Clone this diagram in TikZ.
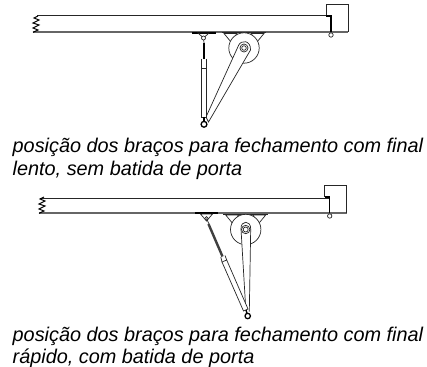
\documentclass[tikz,border=0pt]{standalone}
\usepackage{fontspec}
\setmainfont{Liberation Sans}
\tikzset{
  thin line/.style={line width=0.7pt,draw=black!85},
  door top/.style={line width=1pt,draw=black!85},
  door bottom/.style={line width=1.3pt,draw=black!60},
  heavy line/.style={line width=2pt,draw=black},
  caption/.style={anchor=base west,inner sep=0pt,font=\fontsize{19.85}{22}\selectfont\itshape},
  hinge/.pic={
    \draw[door bottom] (-3,0) -- (18,0);
    \draw[thin line] (-4,-16) -- (-4,-27.5) -- (18,-27.5) -- (18,0);
    \draw[line width=1.2pt] (-4,-16) -- (1,-16) -- (1,0);
    \draw[thin line,fill=white] (1,3) circle (2.2);
  },
  zig/.pic={
    \draw[line width=1pt] (5,-16) -- (1,-14) -- (6,-12) -- (0,-9) -- (6,-7) -- (0,-4) -- (5,-2) -- (0,0.3);
  },
  wheel/.pic={
    \draw[line width=1pt,draw=black!85] (-22.5,-15.5) -- (22,-15.5);
    \draw[thin line] (-20,-14.5) -- (-7,-14.5) -- (-13,-6) -- cycle;
    \draw[thin line] (20,-14.5) -- (7,-14.5) -- (13,-6) -- cycle;
    \draw[thin line,fill=white] (0,0) circle (15.2);
  },
}
\begin{document}
\begin{tikzpicture}[x=1pt,y=-1pt]
\useasboundingbox (0,0) rectangle (427,366);
\fill[white] (0,0) rectangle (427,366);

% ---------- upper drawing ----------
\coordinate (wa) at (244,48);
\coordinate (ea) at (204,124.3);
\coordinate (pa) at (203.5,38);
\draw[door top] (37,16) -- (330,16);
\draw[door bottom] (33,32) -- (329,32);
\pic at (330,32) {hinge};
\pic at (33,32) {zig};
\draw[heavy line] (192,32.8) -- (216,32.8);
\draw[thin line] (198,33) -- (209,33) -- (pa) -- cycle;
\pic at (wa) {wheel};
\draw[thin line,fill=white] (206,117) -- (238.5,45.5) .. controls (241,39.5) and (251,40) .. (250.5,50) -- (208.5,122) -- cycle;
\draw[thin line,fill=white] (wa) circle (4);
\draw[thin line,fill=white] (wa) circle (2.3);
\draw[thin line] (pa) -- (204,43);
\draw[thin line,fill=white] (pa) circle (2);
\draw[line width=2.4pt] (204,43) -- (204,59);
\draw[thin line] (201.7,59) -- (201.7,68) (206.7,59) -- (206.7,68);
\draw[thin line,fill=white] (201.7,68) rectangle (206.7,117);
\draw[line width=1.6pt] (204,117) -- (204,122);
\draw[line width=1.3pt,fill=white] (ea) circle (2.9);
\node[caption] (c1a) at (12.5,152.7) {posição dos braços para fechamento com final};
\node[caption] (c1b) at (12.5,175) {lento, sem batida de porta};

% ---------- lower drawing ----------
\coordinate (wb) at (245.7,229.5);
\coordinate (eb) at (247.7,316);
\coordinate (pb) at (206.5,218.5);
\draw[door top] (40,198) -- (329,198);
\draw[door bottom] (39,213) -- (327,213);
\pic at (328.7,213) {hinge};
\pic at (39,213) {zig};
\draw[heavy line] (195,213.4) -- (218,213.4);
\draw[thin line] (200.5,214) -- (212.5,214) -- (206.5,221) -- cycle;
\pic at (wb) {wheel};
\draw[thin line,fill=white] (245.7,308) -- (241,229) .. controls (240.5,220) and (251,220) .. (250.7,229) -- (249.3,311.7);
\draw[thin line,fill=white] (wb) circle (4.2);
\draw[thin line,fill=white] (wb) circle (2.5);
\draw[thin line,fill=white] (pb) circle (1.8);
\draw[thin line] (pb) -- (209,224);
\draw[line width=2.4pt,draw=black!75] (208.5,224) -- (222.5,256.5);
\draw[thin line] (220.8,257) -- (222,262) (225,255.5) -- (226.7,260);
\draw[thin line,fill=white] (222,262) -- (226.7,260) -- (248,309) -- (243.5,311) -- cycle;
\draw[line width=1.4pt] (246,310) -- (eb);
\draw[line width=1.3pt,fill=white] (eb) circle (2.7);
\node[caption] (c2a) at (12.5,341.7) {posição dos braços para fechamento com final};
\node[caption] (c2b) at (12.5,363.3) {rápido, com batida de porta};
\end{tikzpicture}
\end{document}
